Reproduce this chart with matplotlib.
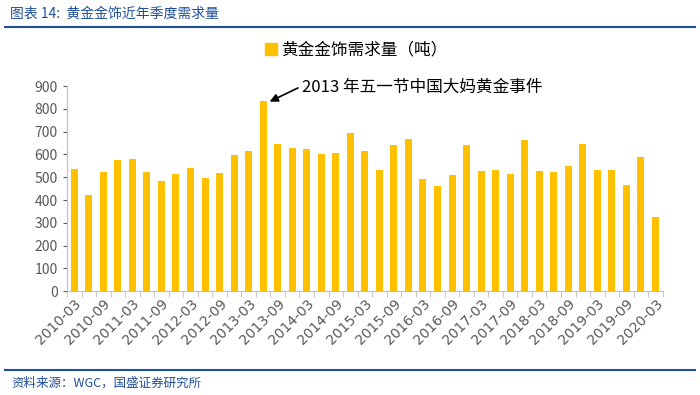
import matplotlib
matplotlib.use("Agg")
import matplotlib.pyplot as plt
from matplotlib.lines import Line2D
import numpy as np

plt.rcParams['font.family'] = ['Noto Sans CJK SC', 'DejaVu Sans']

# quarterly gold jewellery demand (tonnes), 2010-Q1 .. 2020-Q1
quarters = []
for yr in range(2010, 2021):
    for m in ['03', '06', '09', '12']:
        quarters.append('%d-%s' % (yr, m))
quarters = quarters[:41]

demand = [535, 424, 523, 577, 580, 523, 484, 516, 541, 498,
          519, 598, 615, 833, 647, 630, 625, 600, 608, 694,
          615, 533, 640, 668, 491, 462, 508, 640, 526, 530,
          516, 665, 526, 523, 548, 647, 533, 530, 466, 590,
          327]

yticks = list(range(0, 1000, 100))
bar_color = '#FFC000'
blue = '#1F4E9A'
gray = '#595959'

fig = plt.figure(figsize=(7, 3.95), dpi=100)
ax = fig.add_axes([0.0957, 0.263, 0.851, 0.519])

x = np.arange(len(demand))
ax.bar(x, demand, width=0.48, color=bar_color, zorder=2)

ax.set_xlim(-0.5, len(demand) - 0.5)
ax.set_ylim(0, 900)
ax.set_yticks(yticks)
ax.tick_params(axis='y', labelsize=10, colors=gray, length=3, direction='out')
for lbl in ax.get_yticklabels():
    lbl.set_color(gray)

# tick marks between categories, labels every second quarter
ax.set_xticks(np.arange(-0.5, len(demand), 1), minor=True)
ax.set_xticks(x[::2])
ax.set_xticklabels(quarters[::2], rotation=45, ha='right', rotation_mode='anchor',
                   fontsize=10, color=gray, family='DejaVu Sans')
ax.tick_params(axis='x', which='major', length=0, pad=4)
ax.tick_params(axis='x', which='minor', length=4, color='#BFBFBF')

for s in ['top', 'right']:
    ax.spines[s].set_visible(False)
ax.spines['left'].set_color('#BFBFBF')
ax.spines['bottom'].set_color('#BFBFBF')

# annotation: diagonal arrow to the 2013-Q2 spike, label to its right
ax.annotate('', xy=(13.45, 832), xytext=(15.4, 892),
            arrowprops=dict(arrowstyle='-|>', color='black', lw=1.2, mutation_scale=12,
                            shrinkA=0, shrinkB=0),
            annotation_clip=False)
ax.text(15.65, 897, '2013 年五一节中国大妈黄金事件', fontsize=12, color='black',
        va='center', ha='left', clip_on=False)

# legend
handle = Line2D([], [], marker='s', color=bar_color, linestyle='none', markersize=8)
fig.legend([handle], ['黄金金饰需求量（吨）'], loc='center', bbox_to_anchor=(0.508, 0.873),
           frameon=False, fontsize=12, handletextpad=0.2, handlelength=0.8)

# title and footer
fig.text(0.014, 0.965, '图表 14:  黄金金饰近年季度需求量', fontsize=10, color=blue,
         style='italic', va='center', ha='left')
fig.add_artist(Line2D([0.007, 0.993], [0.932, 0.932], color=blue, lw=1.5,
                      transform=fig.transFigure))
fig.add_artist(Line2D([0.007, 0.993], [0.063, 0.063], color=blue, lw=1.5,
                      transform=fig.transFigure))
fig.text(0.017, 0.03, '资料来源：WGC，国盛证券研究所', fontsize=9, color=blue,
         style='italic', va='center', ha='left')

fig.savefig('out.png', dpi=100)
